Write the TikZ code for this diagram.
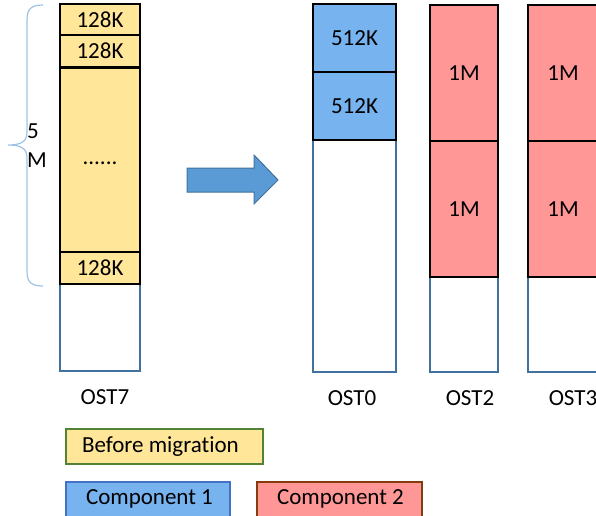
\documentclass[tikz,border=0pt]{standalone}
\usepackage{fontspec}
\setmainfont[Ligatures=NoCommon]{Carlito}
\definecolor{colline}{HTML}{41719C}
\definecolor{yel}{HTML}{FFE699}
\definecolor{blu}{HTML}{76B3EF}
\definecolor{pnk}{HTML}{FF9797}
\definecolor{grn}{HTML}{548235}
\definecolor{blb}{HTML}{4472C4}
\definecolor{brn}{HTML}{843C0C}
\definecolor{brc}{HTML}{9DC3E6}
\definecolor{arr}{HTML}{5B9BD5}
\definecolor{arrl}{HTML}{41719C}
\begin{document}
\begin{tikzpicture}[x=1pt,y=-1pt,
  every node/.style={font=\fontsize{23}{25}\selectfont, inner sep=0pt, outer sep=0pt},
  col/.style={draw=colline, line width=1.2pt, fill=white, anchor=north west},
  blk/.style={draw=black, line width=1.8pt, anchor=north west},
  leg/.style={line width=1.4pt, anchor=north west, text depth=0pt}]
\useasboundingbox (0,0) rectangle (596,515);
% columns
\node[col, minimum width=80, minimum height=367] (c7) at (60,4) {};
\node[col, minimum width=83, minimum height=368] (c0) at (313,4) {};
\node[col, minimum width=68, minimum height=367] (c2) at (430,5) {};
\node[col, minimum width=75, minimum height=367] (c3) at (528,5) {};
% OST7 blocks
\node[blk, fill=yel, minimum width=80, minimum height=31] (a1) at (60,4) {128K};
\node[blk, fill=yel, minimum width=80, minimum height=32] (a2) at (60,35) {128K};
\node[blk, fill=yel, minimum width=80, minimum height=184] (a3) at (60,68) {};
\node (a3t) at (100,163) {......};
\node[blk, fill=yel, minimum width=80, minimum height=32] (a4) at (60,252) {128K};
% OST0 blocks
\node[blk, fill=blu, minimum width=83, minimum height=68] (b1) at (313,4) {512K};
\node[blk, fill=blu, minimum width=83, minimum height=68] (b2) at (313,72) {512K};
% OST2 blocks
\node[blk, fill=pnk, minimum width=68, minimum height=136] (d1) at (430,5) {1M};
\node[blk, fill=pnk, minimum width=68, minimum height=136] (d2) at (430,141) {1M};
% OST3 blocks
\node[blk, fill=pnk, minimum width=75, minimum height=136] (e1) at (528,5) {};
\node[blk, fill=pnk, minimum width=75, minimum height=136] (e2) at (528,141) {};
\node (e1t) at (563,73) {1M};
\node (e2t) at (563,209) {1M};
% labels
\node (l7) at (105,397) {OST7};
\node (l0) at (352,398) {OST0};
\node (l2) at (470,398) {OST2};
\node (l3) at (573,398) {OST3};
% brace
\draw[brc, line width=1.2pt] (43,5) .. controls (31,5) and (27,9) .. (27,20) -- (27,132)
  .. controls (27,141) and (22,145) .. (8,145)
  .. controls (22,145) and (27,149) .. (27,158) -- (27,271)
  .. controls (27,282) and (31,286) .. (43,286);
\node (n5) at (33,131) {5};
\node (nm) at (37,160) {M};
% arrow
\draw[draw=arrl, fill=arr, line width=1pt, line join=miter]
  (187,168) -- (254,168) -- (254,155) -- (278,180) -- (254,204) -- (254,192) -- (187,192) -- cycle;
% legend
\node[leg, draw=grn, fill=yel, minimum width=197, minimum height=35] (g1) at (66,429) {};
\node[anchor=west] (g1t) at (82,446.5) {Before migration};
\node[leg, draw=blb, fill=blu, minimum width=164, minimum height=40] (g2) at (66,482) {};
\node[anchor=west] (g2t) at (86,499) {Component 1};
\node[leg, draw=brn, fill=pnk, minimum width=165, minimum height=40] (g3) at (257,482) {};
\node[anchor=west] (g3t) at (277,499) {Component 2};
\end{tikzpicture}
\end{document}
